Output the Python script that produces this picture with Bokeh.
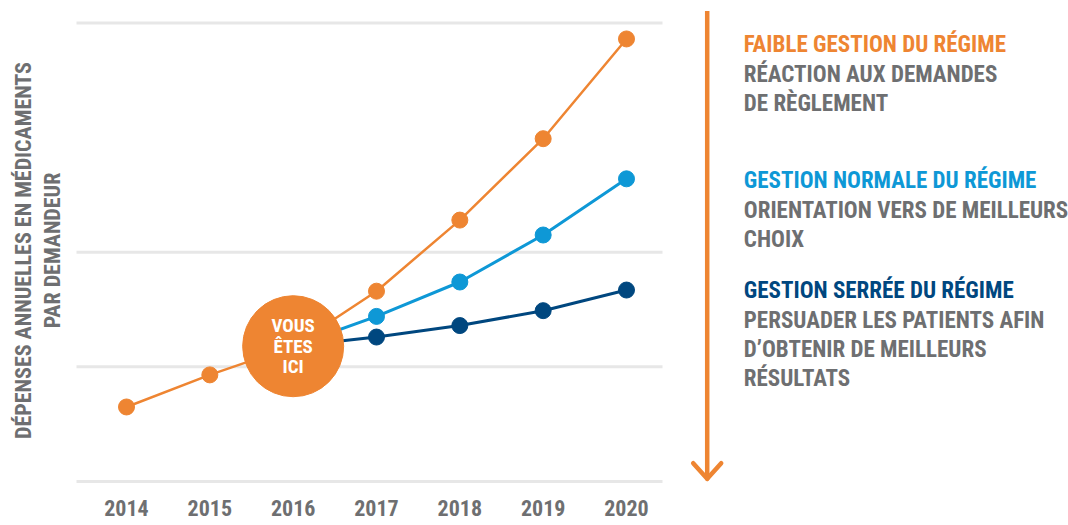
import math
from bokeh.plotting import figure
from bokeh.models import Range1d, FixedTicker, Label, Arrow
from bokeh.core.properties import value
from bokeh.embed import file_html
from bokeh.resources import INLINE

# ---------------- data ----------------
years = [2014, 2015, 2016, 2017, 2018, 2019, 2020]
year_labels = ["2014", "2015", "2016", "2017", "2018", "2019", "2020"]
faible = [0.65, 0.93, 1.18, 1.66, 2.28, 2.99, 3.86]
normale_years = [2016, 2017, 2018, 2019, 2020]
normale = [1.18, 1.44, 1.74, 2.15, 2.64]
serree_years = [2016, 2017, 2018, 2019, 2020]
serree = [1.18, 1.26, 1.36, 1.49, 1.67]
grid_values = [0, 1, 2, 4]
here_year = 2016
here_value = 1.18
here_text = "VOUS\nÊTES\nICI"
y_title = ["DÉPENSES ANNUELLES EN MÉDICAMENTS", "PAR DEMANDEUR"]
legend_blocks = [
    ("FAIBLE GESTION DU RÉGIME", ["RÉACTION AUX DEMANDES", "DE RÈGLEMENT"]),
    ("GESTION NORMALE DU RÉGIME", ["ORIENTATION VERS DE MEILLEURS", "CHOIX"]),
    ("GESTION SERRÉE DU RÉGIME", ["PERSUADER LES PATIENTS AFIN", "D’OBTENIR DE MEILLEURS", "RÉSULTATS"]),
]

# ---------------- style ----------------
ORANGE = "#EE8532"
LBLUE = "#0E98D6"
DBLUE = "#00477F"
GRAY = "#6E6F71"
GRID = "#E7E7E7"
FONT = "Roboto Condensed"

W, H = 1068, 525
FRAME_B = 488          # frame covers page y 0..488, x 0..1068
PX_PER_YEAR = 83.333
X_2014 = 126
PX_PER_UNIT = 114.65
Y_ZERO = 481
X0 = 2014 - X_2014 / PX_PER_YEAR
X1 = 2014 + (W - X_2014) / PX_PER_YEAR
Y1 = Y_ZERO / PX_PER_UNIT
Y0 = (Y_ZERO - FRAME_B) / PX_PER_UNIT


def px_x(px):
    return X0 + px / W * (X1 - X0)


def px_y(py):
    return Y1 - py / FRAME_B * (Y1 - Y0)


p = figure(width=W, height=H, x_range=Range1d(X0, X1), y_range=Range1d(Y0, Y1),
           output_backend="svg", toolbar_location=None,
           min_border_left=0, min_border_right=0, min_border_top=0, min_border_bottom=H - FRAME_B)
p.outline_line_color = None
p.background_fill_color = "white"
p.border_fill_color = "white"

p.yaxis.visible = False
p.xgrid.visible = False
p.ygrid.visible = False

ax = p.xaxis[0]
ax.ticker = FixedTicker(ticks=years)
ax.major_label_overrides = {y: l for y, l in zip(years, year_labels)}
ax.axis_line_color = None
ax.major_tick_line_color = None
ax.minor_tick_line_color = None
ax.major_tick_out = 0
ax.major_tick_in = 0
ax.major_label_standoff = 11
ax.major_label_text_font = FONT
ax.major_label_text_font_style = "bold"
ax.major_label_text_font_size = "22px"
ax.major_label_text_color = GRAY

# horizontal grid lines (plot area page x 76..662)
p.segment(x0=[px_x(76)] * len(grid_values), x1=[px_x(662)] * len(grid_values),
          y0=grid_values, y1=grid_values, line_color=GRID, line_width=3)

# series
p.line(years, faible, line_color=ORANGE, line_width=2.5)
p.scatter(years, faible, size=16, color=ORANGE)
p.line(normale_years, normale, line_color=LBLUE, line_width=3)
p.scatter(normale_years, normale, size=16, color=LBLUE)
p.line(serree_years, serree, line_color=DBLUE, line_width=3)
p.scatter(serree_years, serree, size=16, color=DBLUE)

# "vous êtes ici" bubble
p.scatter([here_year], [here_value], size=101, color=ORANGE)
p.text([here_year], [here_value], text=[here_text], text_align="center", text_baseline="middle",
       text_color="white", text_font=value(FONT), text_font_style="bold",
       text_font_size="19px", text_line_height=0.9)

# y title (two rotated lines)
for txt, cx in zip(y_title, [23, 52]):
    p.add_layout(Label(x=px_x(cx), y=px_y(250), text=txt, angle=math.pi / 2,
                       text_align="center", text_baseline="middle",
                       text_font=FONT, text_font_style="bold", text_font_size="22px",
                       text_color=GRAY))

# legend text (line centres, page pixels)
colors = [ORANGE, LBLUE, DBLUE]
centres = [[44.2, 73.5, 102.5], [180.0, 210.0, 239.0], [290.0, 320.0, 349.0, 378.0]]
for (head, lines), col, cys in zip(legend_blocks, colors, centres):
    rows = [(head, col)] + [(l, GRAY) for l in lines]
    for (txt, c), cy in zip(rows, cys):
        p.add_layout(Label(x=px_x(743.3), y=px_y(cy), text=txt,
                           text_align="left", text_baseline="middle",
                           text_font=FONT, text_font_style="bold", text_font_size="23px",
                           text_color=c))

# vertical arrow
AX = 706.7
p.add_layout(Arrow(x_start=px_x(AX), y_start=px_y(10.5), x_end=px_x(AX), y_end=px_y(477),
                   end=None, line_color=ORANGE, line_width=4.5))
for dx in (-14, 14):
    p.add_layout(Arrow(x_start=px_x(AX + dx), y_start=px_y(462.7), x_end=px_x(AX), y_end=px_y(478.3),
                       end=None, line_color=ORANGE, line_width=4.5, line_cap="round"))

open("out.html", "w").write(file_html(p, INLINE))
